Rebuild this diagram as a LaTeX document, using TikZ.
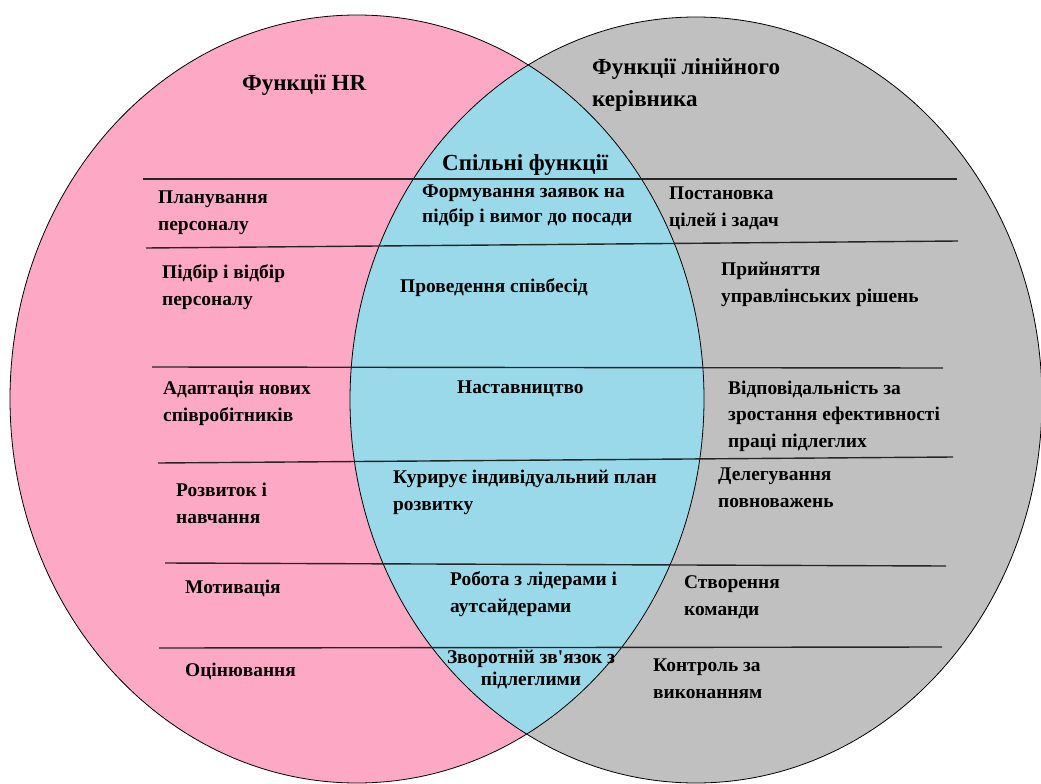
\documentclass[tikz,border=0pt]{standalone}
\usepackage{fontspec}
\setmainfont{Liberation Serif}
\newfontfamily\vennserif{Liberation Serif}

\tikzstyle{fn-item}=[anchor=base west, align=left, inner sep=0pt, font=\vennserif\bfseries\fontsize{19.4}{26.5}\selectfont]
\tikzstyle{fn-head}=[anchor=base west, align=left, inner sep=0pt, font=\vennserif\bfseries\fontsize{23}{32}\selectfont]
\tikzstyle{fn-rule}=[line width=1.4pt, black!85]
\definecolor{VennPink}{HTML}{FDA9C6}
\definecolor{VennGrey}{HTML}{C0C0C0}
\definecolor{VennBlue}{HTML}{9AD9EA}

\begin{document}
\begin{tikzpicture}[x=1pt, y=-1pt]
      \useasboundingbox (0,0) rectangle (1041,784);

      % circles
      \fill[VennPink] (357,399) ellipse [x radius=347pt, y radius=384pt];
      \fill[VennGrey] (696,400) ellipse [x radius=346pt, y radius=383pt];
      \begin{scope}
            \clip (357,399) ellipse [x radius=347pt, y radius=384pt];
            \fill[VennBlue] (696,400) ellipse [x radius=346pt, y radius=383pt];
      \end{scope}
      \draw[line width=0.8pt] (357,399) ellipse [x radius=347pt, y radius=384pt];
      \draw[line width=0.8pt] (696,400) ellipse [x radius=346pt, y radius=383pt];

      % rows
      \draw[fn-rule] (143,179) -- (957,179);
      \draw[fn-rule] (146,248) -- (958,241);
      \draw[fn-rule] (152,367) -- (943,368);
      \draw[fn-rule] (158,463) -- (953,457);
      \draw[fn-rule] (165,563) -- (946,566);
      \draw[fn-rule] (159,648) -- (942,647);

      % headings (base = last line)
      \node (head:hr) at (242,90) [fn-head] {Функції HR};
      \node (head:line) at (592,106) [fn-head] {Функції лінійного\\керівника};
      \node (head:common) at (442,170) [fn-head] {Спільні функції};

      % HR
      \node (hr:plan) at (158,230) [fn-item] {Планування\\персоналу};
      \node (hr:select) at (162,305) [fn-item] {Підбір і відбір\\персоналу};
      \node (hr:adapt) at (163,421) [fn-item] {Адаптація нових\\співробітників};
      \node (hr:develop) at (176,523) [fn-item] {Розвиток і\\навчання};
      \node (hr:motiv) at (185,593) [fn-item] {Мотивація};
      \node (hr:eval) at (185,676) [fn-item] {Оцінювання};

      % common
      \node (com:request) at (422,222) [fn-item, font=\vennserif\bfseries\fontsize{19.4}{25}\selectfont] {Формування заявок на\\підбір і вимог до посади};
      \node (com:interview) at (400,292) [fn-item] {Проведення співбесід};
      \node (com:mentor) at (457,393) [fn-item] {Наставництво};
      \node (com:plan) at (393,510) [fn-item, font=\vennserif\bfseries\fontsize{19.4}{27}\selectfont] {Курирує індивідуальний план\\розвитку};
      \node (com:leaders) at (450,612) [fn-item] {Робота з лідерами і\\аутсайдерами};
      \node (com:feedback) at (531,685) [fn-item, anchor=base, align=center, font=\vennserif\bfseries\fontsize{19.4}{22}\selectfont] {Зворотній зв\textquotesingle язок з\\підлеглими};

      % line manager
      \node (lm:goals) at (669,226) [fn-item] {Постановка\\цілей і задач};
      \node (lm:decide) at (721,302) [fn-item] {Прийняття\\управлінських рішень};
      \node (lm:respons) at (728,447) [fn-item] {Відповідальність за\\зростання ефективності\\праці підлеглих};
      \node (lm:delegate) at (718,507) [fn-item] {Делегування\\повноважень};
      \node (lm:team) at (684,615) [fn-item] {Створення\\команди};
      \node (lm:control) at (653,698) [fn-item] {Контроль за\\виконанням};
\end{tikzpicture}
\end{document}
